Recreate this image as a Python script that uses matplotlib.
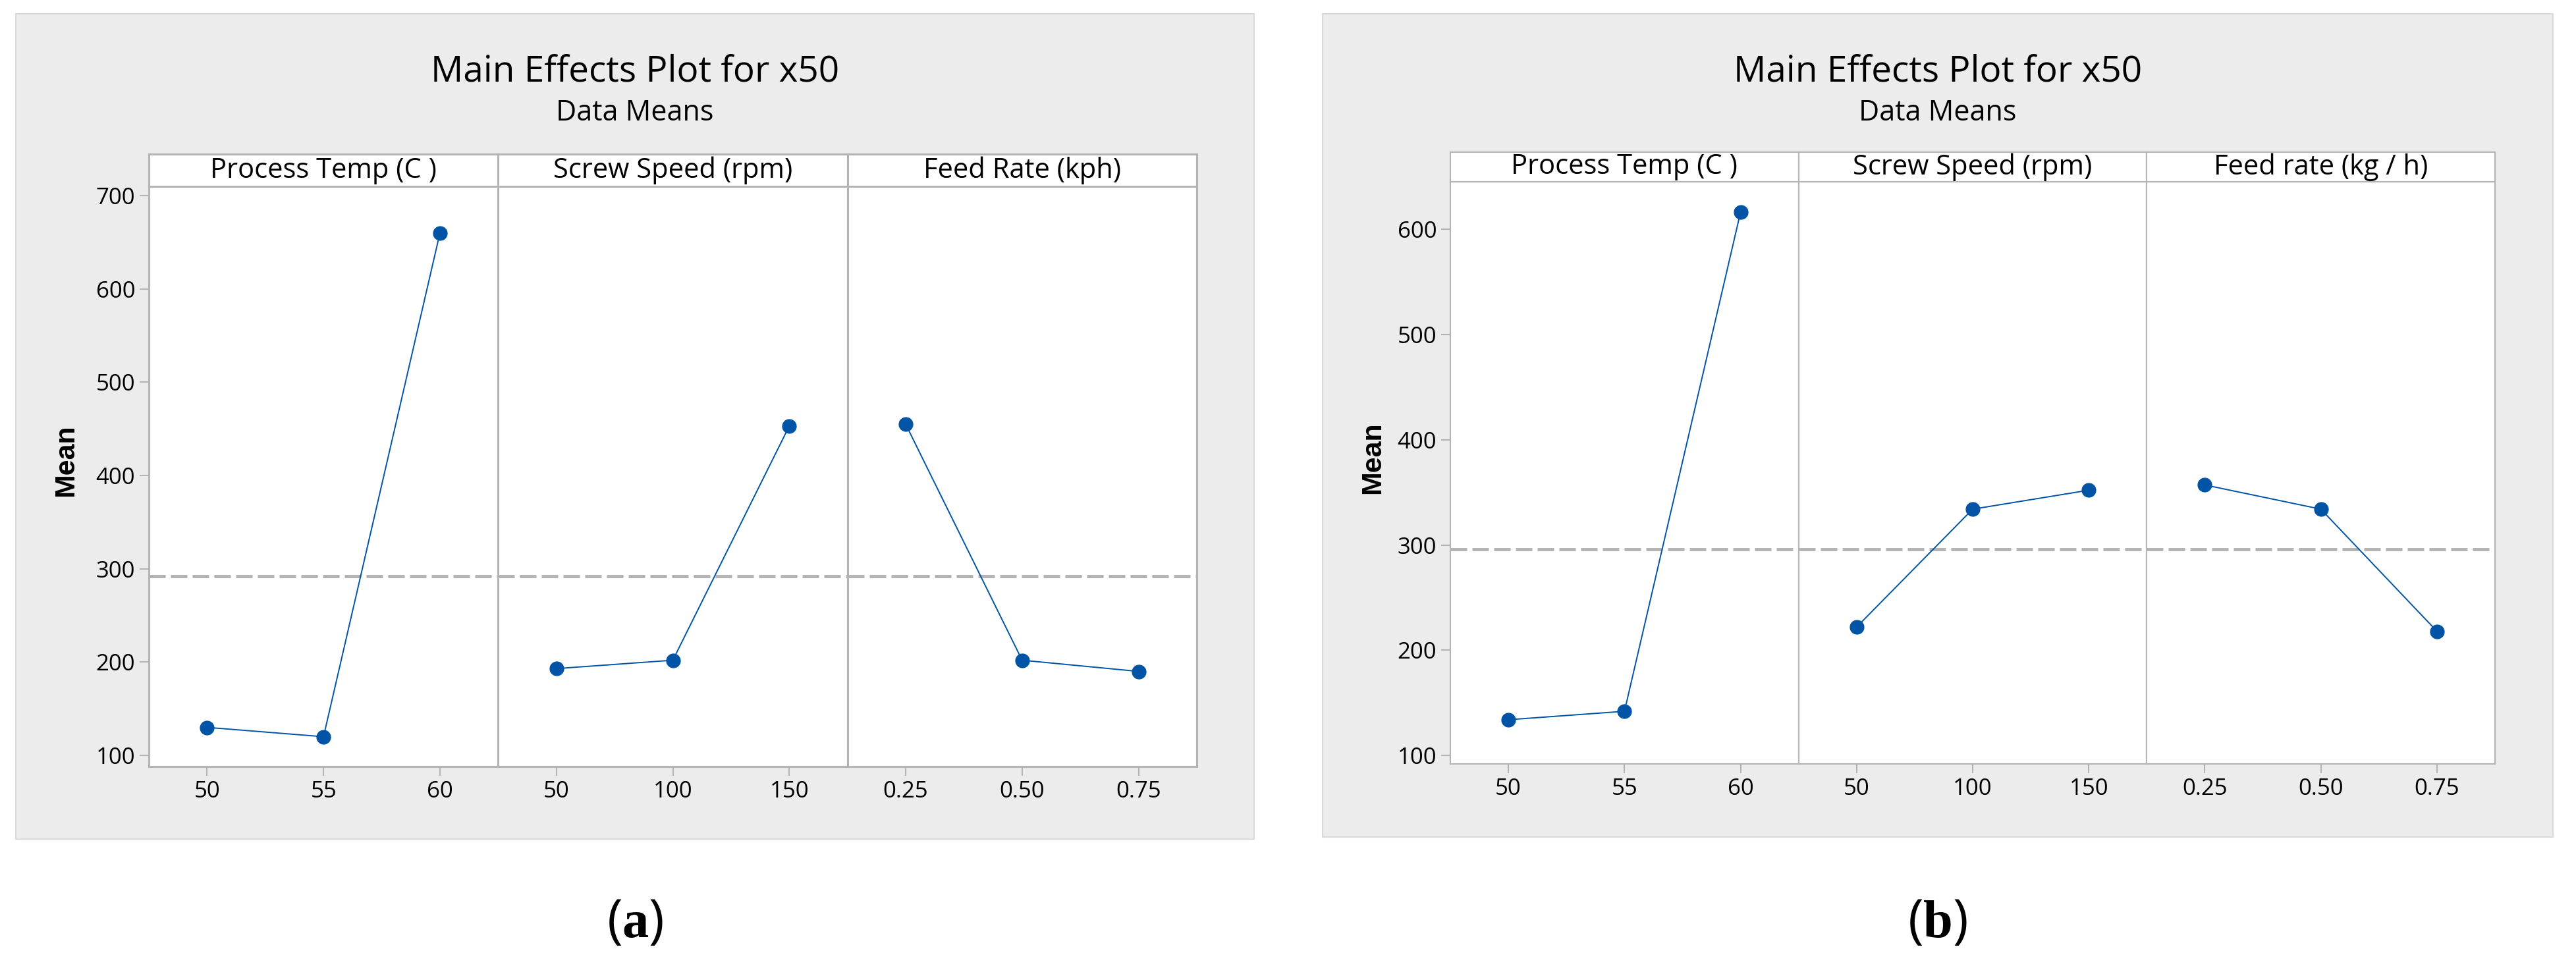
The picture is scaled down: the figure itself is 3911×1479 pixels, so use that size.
import matplotlib
matplotlib.use("Agg")
import matplotlib.pyplot as plt
from matplotlib.patches import Rectangle

# data
title = "Main Effects Plot for x50"
subtitle = "Data Means"
factors_a = ["Process Temp (C )", "Screw Speed (rpm)", "Feed Rate (kph)"]
factors_b = ["Process Temp (C )", "Screw Speed (rpm)", "Feed rate (kg / h)"]
levels = [["50", "55", "60"], ["50", "100", "150"], ["0.25", "0.50", "0.75"]]
means_a = [[130, 120, 660], [193, 202, 453], [455, 202, 190]]
means_b = [[134, 142, 616], [222, 334, 352], [357, 334, 218]]
grand_a = 292
grand_b = 296
yticks_a = [100, 200, 300, 400, 500, 600, 700]
yticks_b = [100, 200, 300, 400, 500, 600]

W, H = 3911, 1479
plt.rcParams["font.family"] = ["Open Sans", "DejaVu Sans"]
plt.rcParams["mathtext.fontset"] = "custom"
plt.rcParams["mathtext.bf"] = "Liberation Serif:bold"
plt.rcParams["mathtext.rm"] = "Liberation Serif"

fig = plt.figure(figsize=(W / 100, H / 100), dpi=100)
fig.patch.set_facecolor("white")

BLUE = "#0054a6"
GRID = "#b4b4b4"


def box(l, t, r, b):
    # pixel box -> figure fraction rect
    return [l / W, 1 - b / H, (r - l) / W, (b - t) / H]


def panel(bg, plot, strip_top, factors, means, grand, yticks, ylim,
          label, spine_w):
    l, t, r, b = bg
    fig.patches.append(Rectangle((l / W, 1 - b / H), (r - l) / W, (b - t) / H,
                                 transform=fig.transFigure, facecolor="#ececec",
                                 edgecolor="#dadada", linewidth=1.5, zorder=-10))
    cx = (l + r) / 2
    fig.text(cx / W, 1 - 109 / H, title, ha="center", va="center", fontsize=39.5)
    fig.text(cx / W, 1 - 172 / H, subtitle, ha="center", va="center", fontsize=31)

    pl, pt, pr, pb = plot
    pw = (pr - pl) / 3
    for i in range(3):
        ax = fig.add_axes(box(pl + i * pw, pt, pl + (i + 1) * pw, pb))
        ax.plot([0, 1, 2], means[i], color=BLUE, lw=1.4, marker="o",
                markersize=15, zorder=3)
        ax.axhline(grand, color=GRID, lw=3.6, dashes=(5, 1.6), zorder=2)
        ax.set_xlim(-0.5, 2.5)
        ax.set_ylim(*ylim)
        ax.set_xticks([0, 1, 2])
        ax.set_xticklabels(levels[i])
        ax.set_yticks(yticks)
        ax.tick_params(colors=GRID, labelcolor="black", labelsize=25,
                       length=10, width=1.5, pad=5)
        if i > 0:
            ax.tick_params(axis="y", left=False, labelleft=False)
        for s in ax.spines.values():
            s.set_color(GRID)
            s.set_linewidth(spine_w)

        # strip header
        sx = fig.add_axes(box(pl + i * pw, strip_top, pl + (i + 1) * pw, pt))
        sx.set_xticks([])
        sx.set_yticks([])
        for s in sx.spines.values():
            s.set_color(GRID)
            s.set_linewidth(spine_w)
        sx.text(0.5, 0.5, factors[i], ha="center", va="center", fontsize=30,
                transform=sx.transAxes)

    fig.text((l + 76) / W, 1 - ((strip_top + pb) / 2) / H, "Mean",
             rotation=90, ha="center", va="center", fontsize=31,
             fontweight="bold", family="Liberation Sans")
    fig.text(cx / W, 1 - 1402 / H, label, ha="center", va="center",
             fontsize=58)


panel((24, 21, 1904, 1274), (226, 283, 1817, 1164), 234, factors_a, means_a,
      grand_a, yticks_a, (88, 710), r"($\mathbf{a}$)", 2.2)
panel((2008, 21, 3876, 1271), (2202, 276, 3788, 1160), 231, factors_b, means_b,
      grand_b, yticks_b, (92, 645), r"($\mathbf{b}$)", 1.5)

fig.savefig("out.png", dpi=100)
